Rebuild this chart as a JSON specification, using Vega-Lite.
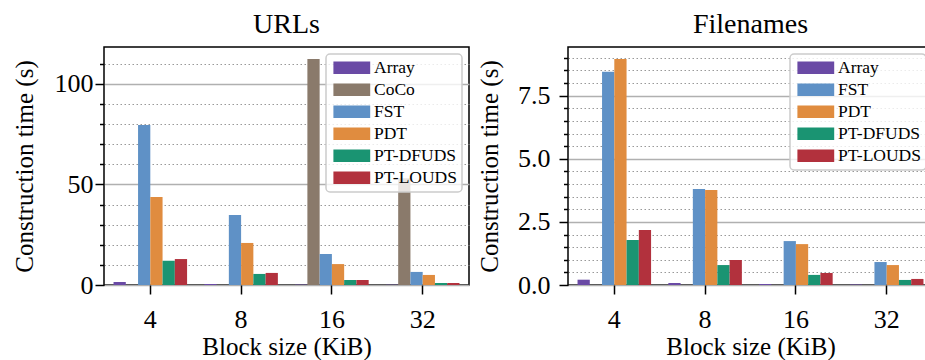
{
  "$schema": "https://vega.github.io/schema/vega-lite/v6.json",
  "padding": {"left": 11, "top": 10, "right": 0, "bottom": 0},
  "config": {
    "font": "Liberation Serif, Times New Roman, serif",
    "style": {"guide-label": {"font": "Liberation Serif, Times New Roman, serif"}, "guide-title": {"font": "Liberation Serif, Times New Roman, serif"}, "group-title": {"font": "Liberation Serif, Times New Roman, serif"}},
    "view": {"stroke": "black", "strokeWidth": 1.5},
    "axis": {"labelFont": "Liberation Serif, Times New Roman, serif", "titleFont": "Liberation Serif, Times New Roman, serif", "labelColor": "black", "titleColor": "black", "titleFontWeight": "normal", "tickColor": "black", "tickWidth": 1.5, "domain": false, "labelFontSize": 26, "titleFontSize": 25},
    "title": {"font": "Liberation Serif, Times New Roman, serif", "fontSize": 28, "fontWeight": "normal", "color": "black", "offset": 8},
    "legend": {"orient": "top-right", "offset": 7, "padding": 5, "strokeColor": "#cccccc", "strokeWidth": 1.5, "fillColor": "rgba(255,255,255,0.8)", "cornerRadius": 4, "labelFont": "Liberation Serif, Times New Roman, serif", "labelFontSize": 17.5, "labelColor": "black", "symbolType": "M-1,-1H4.8V1H-1Z", "symbolSize": 161, "symbolStrokeWidth": 0, "symbolOpacity": 1, "labelOffset": 25.5, "rowPadding": 3},
    "concat": {"spacing": 6}
  },
  "data": {"values": [
    {"panel": "URLs", "block": "4", "method": "Array", "value": 1.5},
    {"panel": "URLs", "block": "4", "method": "FST", "value": 79.5},
    {"panel": "URLs", "block": "4", "method": "PDT", "value": 43.7},
    {"panel": "URLs", "block": "4", "method": "PT-DFUDS", "value": 12.1},
    {"panel": "URLs", "block": "4", "method": "PT-LOUDS", "value": 12.9},
    {"panel": "URLs", "block": "8", "method": "Array", "value": 0.5},
    {"panel": "URLs", "block": "8", "method": "FST", "value": 34.8},
    {"panel": "URLs", "block": "8", "method": "PDT", "value": 20.9},
    {"panel": "URLs", "block": "8", "method": "PT-DFUDS", "value": 5.5},
    {"panel": "URLs", "block": "8", "method": "PT-LOUDS", "value": 6.0},
    {"panel": "URLs", "block": "16", "method": "Array", "value": 0.2},
    {"panel": "URLs", "block": "16", "method": "CoCo", "value": 112.3},
    {"panel": "URLs", "block": "16", "method": "FST", "value": 15.4},
    {"panel": "URLs", "block": "16", "method": "PDT", "value": 10.4},
    {"panel": "URLs", "block": "16", "method": "PT-DFUDS", "value": 2.5},
    {"panel": "URLs", "block": "16", "method": "PT-LOUDS", "value": 2.5},
    {"panel": "URLs", "block": "32", "method": "Array", "value": 0.15},
    {"panel": "URLs", "block": "32", "method": "CoCo", "value": 53},
    {"panel": "URLs", "block": "32", "method": "FST", "value": 6.5},
    {"panel": "URLs", "block": "32", "method": "PDT", "value": 5.0},
    {"panel": "URLs", "block": "32", "method": "PT-DFUDS", "value": 1.0},
    {"panel": "URLs", "block": "32", "method": "PT-LOUDS", "value": 1.0},
    {"panel": "Filenames", "block": "4", "method": "Array", "value": 0.21},
    {"panel": "Filenames", "block": "4", "method": "FST", "value": 8.45},
    {"panel": "Filenames", "block": "4", "method": "PDT", "value": 8.95},
    {"panel": "Filenames", "block": "4", "method": "PT-DFUDS", "value": 1.78},
    {"panel": "Filenames", "block": "4", "method": "PT-LOUDS", "value": 2.18},
    {"panel": "Filenames", "block": "8", "method": "Array", "value": 0.08},
    {"panel": "Filenames", "block": "8", "method": "FST", "value": 3.8},
    {"panel": "Filenames", "block": "8", "method": "PDT", "value": 3.76},
    {"panel": "Filenames", "block": "8", "method": "PT-DFUDS", "value": 0.79},
    {"panel": "Filenames", "block": "8", "method": "PT-LOUDS", "value": 0.99},
    {"panel": "Filenames", "block": "16", "method": "Array", "value": 0.04},
    {"panel": "Filenames", "block": "16", "method": "FST", "value": 1.74},
    {"panel": "Filenames", "block": "16", "method": "PDT", "value": 1.62},
    {"panel": "Filenames", "block": "16", "method": "PT-DFUDS", "value": 0.40},
    {"panel": "Filenames", "block": "16", "method": "PT-LOUDS", "value": 0.48},
    {"panel": "Filenames", "block": "32", "method": "Array", "value": 0.02},
    {"panel": "Filenames", "block": "32", "method": "FST", "value": 0.91},
    {"panel": "Filenames", "block": "32", "method": "PDT", "value": 0.79},
    {"panel": "Filenames", "block": "32", "method": "PT-DFUDS", "value": 0.20},
    {"panel": "Filenames", "block": "32", "method": "PT-LOUDS", "value": 0.24}
  ]},
  "hconcat": [
    {
      "title": "URLs",
      "width": 365,
      "height": 238,
      "transform": [{"filter": "datum.panel === 'URLs'"}],
      "layer": [
        {
          "mark": {"type": "bar", "opacity": 0},
          "encoding": {
            "x": {"field": "block", "type": "ordinal", "sort": ["4", "8", "16", "32"], "scale": {"paddingInner": 0.19, "paddingOuter": 0.105}, "axis": {"title": "Block size (KiB)", "labelAngle": 0, "tickSize": 9, "labelPadding": 12, "titlePadding": 2, "grid": false}},
            "xOffset": {"field": "method", "type": "nominal", "scale": {"domain": ["Array", "CoCo", "FST", "PDT", "PT-DFUDS", "PT-LOUDS"], "paddingInner": 0, "paddingOuter": 0}},
            "y": {"field": "value", "type": "quantitative", "scale": {"domain": [0, 118.3], "nice": false, "zero": true}, "axis": {"orient": "left", "values": [10, 20, 30, 40, 60, 70, 80, 90, 110], "grid": true, "gridColor": "#999999", "gridDash": [1.5, 2.5], "gridWidth": 1, "tickSize": 4.5, "labels": false, "title": null}}
          }
        },
        {
          "mark": {"type": "bar"},
          "encoding": {
            "x": {"field": "block", "type": "ordinal", "sort": ["4", "8", "16", "32"], "scale": {"paddingInner": 0.19, "paddingOuter": 0.105}, "axis": {"title": "Block size (KiB)", "labelAngle": 0, "tickSize": 9, "labelPadding": 12, "titlePadding": 2, "grid": false}},
            "xOffset": {"field": "method", "type": "nominal", "scale": {"domain": ["Array", "CoCo", "FST", "PDT", "PT-DFUDS", "PT-LOUDS"], "paddingInner": 0, "paddingOuter": 0}},
            "y": {"field": "value", "type": "quantitative", "scale": {"domain": [0, 118.3], "nice": false, "zero": true}, "axis": {"orient": "left", "values": [0, 50, 100], "grid": true, "gridColor": "#b0b0b0", "gridWidth": 1.5, "tickSize": 9, "labelPadding": 2, "title": "Construction time (s)", "titlePadding": 17}},
            "color": {"field": "method", "type": "nominal", "scale": {"domain": ["Array", "CoCo", "FST", "PDT", "PT-DFUDS", "PT-LOUDS"], "range": ["#6a4aa5", "#8a7a6b", "#5f91c6", "#e08c3f", "#1a9472", "#b2313d"]}, "legend": {"title": null}}
          }
        }
      ],
      "resolve": {"scale": {"y": "independent"}, "axis": {"y": "independent"}}
    },
    {
      "title": "Filenames",
      "width": 365,
      "height": 238,
      "transform": [{"filter": "datum.panel === 'Filenames'"}],
      "layer": [
        {
          "mark": {"type": "bar", "opacity": 0},
          "encoding": {
            "x": {"field": "block", "type": "ordinal", "sort": ["4", "8", "16", "32"], "scale": {"paddingInner": 0.19, "paddingOuter": 0.105}, "axis": {"title": "Block size (KiB)", "labelAngle": 0, "tickSize": 9, "labelPadding": 12, "titlePadding": 2, "grid": false}},
            "xOffset": {"field": "method", "type": "nominal", "scale": {"domain": ["Array", "FST", "PDT", "PT-DFUDS", "PT-LOUDS"], "paddingInner": 0, "paddingOuter": 0}},
            "y": {"field": "value", "type": "quantitative", "scale": {"domain": [0, 9.43], "nice": false, "zero": true}, "axis": {"orient": "left", "values": [0.5, 1, 1.5, 2, 3, 3.5, 4, 4.5, 5.5, 6, 6.5, 7, 8, 8.5, 9], "grid": true, "gridColor": "#999999", "gridDash": [1.5, 2.5], "gridWidth": 1, "tickSize": 4.5, "labels": false, "title": null}}
          }
        },
        {
          "mark": {"type": "bar"},
          "encoding": {
            "x": {"field": "block", "type": "ordinal", "sort": ["4", "8", "16", "32"], "scale": {"paddingInner": 0.19, "paddingOuter": 0.105}, "axis": {"title": "Block size (KiB)", "labelAngle": 0, "tickSize": 9, "labelPadding": 12, "titlePadding": 2, "grid": false}},
            "xOffset": {"field": "method", "type": "nominal", "scale": {"domain": ["Array", "FST", "PDT", "PT-DFUDS", "PT-LOUDS"], "paddingInner": 0, "paddingOuter": 0}},
            "y": {"field": "value", "type": "quantitative", "scale": {"domain": [0, 9.43], "nice": false, "zero": true}, "axis": {"orient": "left", "values": [0, 2.5, 5, 7.5], "format": ".1f", "grid": true, "gridColor": "#b0b0b0", "gridWidth": 1.5, "tickSize": 9, "labelPadding": 9, "title": "Construction time (s)", "titlePadding": 15}},
            "color": {"field": "method", "type": "nominal", "scale": {"domain": ["Array", "FST", "PDT", "PT-DFUDS", "PT-LOUDS"], "range": ["#6a4aa5", "#5f91c6", "#e08c3f", "#1a9472", "#b2313d"]}, "legend": {"title": null}}
          }
        }
      ],
      "resolve": {"scale": {"y": "independent"}, "axis": {"y": "independent"}}
    }
  ],
  "resolve": {"scale": {"color": "independent", "y": "independent"}, "legend": {"color": "independent"}}
}
